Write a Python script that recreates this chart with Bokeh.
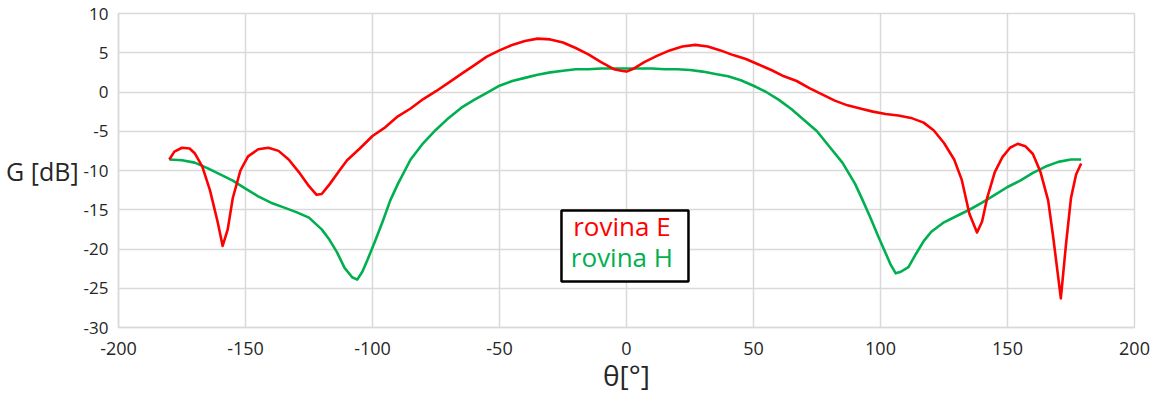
from bokeh.plotting import figure
from bokeh.models import Range1d, FixedTicker, BoxAnnotation, Label
from bokeh.embed import file_html
from bokeh.resources import INLINE

# ---- data ----
theta_e = [-180, -178, -175, -172, -170, -167, -164, -161, -159, -157, -155, -152, -149, -145,
           -141, -137, -133, -129, -125, -122, -120, -117, -113, -110, -105, -100, -95, -90,
           -85, -80, -75, -70, -65, -60, -55, -50, -45, -40, -35, -30, -25, -20, -15, -10,
           -5, -2, 0, 3, 7, 12, 17, 22, 27, 32, 37, 42, 47, 52, 57, 62, 67, 72, 77, 82, 87,
           92, 97, 102, 107, 112, 117, 121, 125, 129, 132, 135, 138, 140, 142, 145, 148, 151,
           154, 157, 160, 163, 166, 168, 171, 173, 175, 177, 179]
gain_e = [-8.6, -7.6, -7.1, -7.2, -7.8, -9.5, -12.5, -16.5, -19.6, -17.5, -13.5, -10.0, -8.2, -7.3,
          -7.1, -7.5, -8.6, -10.2, -12.0, -13.1, -13.0, -11.8, -10.0, -8.7, -7.2, -5.6, -4.5, -3.1,
          -2.1, -0.9, 0.1, 1.2, 2.3, 3.4, 4.5, 5.3, 6.0, 6.5, 6.8, 6.7, 6.3, 5.6, 4.8, 3.8,
          2.9, 2.7, 2.6, 3.0, 3.8, 4.6, 5.3, 5.8, 6.0, 5.8, 5.3, 4.7, 4.2, 3.5, 2.8, 2.0, 1.4, 0.5, -0.3, -1.1, -1.7,
          -2.1, -2.5, -2.8, -3.0, -3.3, -3.9, -4.9, -6.5, -8.6, -11.2, -15.5, -17.9, -16.5, -13.5, -10.2, -8.3, -7.1,
          -6.6, -6.9, -7.9, -10.2, -13.8, -18.5, -26.3, -19.5, -13.5, -10.5, -9.1]

theta_h = [-180, -175, -170, -165, -160, -155, -150, -145, -140, -135, -130, -125, -120, -117,
           -114, -111, -108, -106, -104, -102, -99, -96, -93, -90, -85, -80, -75, -70, -65, -60,
           -55, -50, -45, -40, -35, -30, -25, -20, -15, -10, -5, 0, 5, 10, 15, 20, 25, 30, 35,
           40, 45, 50, 55, 60, 65, 70, 75, 80, 85, 90, 93, 96, 99, 102, 104, 106, 108, 111, 114,
           117, 120, 125, 130, 135, 140, 145, 150, 155, 160, 165, 170, 175, 179]
gain_h = [-8.6, -8.7, -9.0, -9.7, -10.5, -11.3, -12.3, -13.3, -14.1, -14.7, -15.3, -16.0, -17.5, -18.8,
          -20.4, -22.4, -23.6, -23.9, -22.9, -21.4, -19.0, -16.5, -13.8, -11.7, -8.6, -6.5, -4.8, -3.3, -2.0, -1.0,
          -0.1, 0.8, 1.4, 1.8, 2.2, 2.5, 2.7, 2.9, 2.9, 3.0, 3.0, 3.0, 3.0, 3.0, 2.9, 2.9, 2.8, 2.6, 2.3,
          2.0, 1.5, 0.8, 0.0, -1.0, -2.2, -3.6, -5.0, -7.0, -9.0, -11.7, -13.8, -16.0, -18.3, -20.5, -22.0, -23.1, -22.9, -22.3, -20.6,
          -19.0, -17.8, -16.6, -15.8, -15.0, -14.1, -13.1, -12.1, -11.3, -10.3, -9.5, -8.9, -8.6, -8.6]

x_ticks = [-200, -150, -100, -50, 0, 50, 100, 150, 200]
y_ticks = [-30, -25, -20, -15, -10, -5, 0, 5, 10]
series_names = ["rovina E", "rovina H"]
series_colors = ["#ff0000", "#00b050"]

FONT = "Open Sans"
TXT = "#262626"
GRID = "#d9d9d9"

p = figure(width=1158, height=396, output_backend="svg", toolbar_location=None,
           x_range=Range1d(-200, 200), y_range=Range1d(-30, 10),
           min_border_left=118, min_border_right=24, min_border_top=13, min_border_bottom=69)
p.background_fill_color = "white"
p.border_fill_color = "white"
p.outline_line_color = GRID
p.outline_line_width = 1.5

p.line(theta_h, gain_h, line_color=series_colors[1], line_width=2.6, line_join="round")
p.line(theta_e, gain_e, line_color=series_colors[0], line_width=2.6, line_join="round")

p.xaxis.ticker = FixedTicker(ticks=x_ticks)
p.yaxis.ticker = FixedTicker(ticks=y_ticks)
p.xgrid.ticker = FixedTicker(ticks=x_ticks)
p.ygrid.ticker = FixedTicker(ticks=y_ticks)
p.grid.grid_line_color = GRID
p.grid.grid_line_width = 1.5

for ax in (p.xaxis, p.yaxis):
    ax.axis_line_color = GRID
    ax.axis_line_width = 1.5
    ax.major_tick_line_color = None
    ax.minor_tick_line_color = None
    ax.major_label_text_font = FONT
    ax.major_label_text_color = TXT
    ax.axis_label_text_font = FONT
    ax.axis_label_text_color = TXT
    ax.axis_label_text_font_style = "normal"

p.xaxis.major_label_overrides = {t: str(t) for t in x_ticks}
p.yaxis.major_label_overrides = {t: str(t) for t in y_ticks}

p.xaxis.major_label_text_font_size = "18px"
p.xaxis.major_label_standoff = 8
p.xaxis.axis_label = "θ[°]"
p.xaxis.axis_label_text_font_size = "28px"
p.xaxis.axis_label_standoff = -2

p.yaxis.major_label_text_font_size = "17px"
p.yaxis.major_label_standoff = 4
p.yaxis.axis_label = "G [dB]"
p.yaxis.axis_label_orientation = "horizontal"
p.yaxis.axis_label_text_font_size = "25px"
p.yaxis.axis_label_standoff = 2

# legend box
box = BoxAnnotation(left=-25.6, right=24.4, top=-15.1, bottom=-24.14,
                    fill_color="white", fill_alpha=1.0,
                    line_color="black", line_alpha=1.0, line_width=2.5, level="overlay")
p.add_layout(box)
p.add_layout(Label(x=-1.8, y=-17.13, text=series_names[0], text_color=series_colors[0],
                   text_font=FONT, text_font_size="26px", text_align="center",
                   text_baseline="alphabetic", level="overlay"))
p.add_layout(Label(x=-1.8, y=-20.96, text=series_names[1], text_color=series_colors[1],
                   text_font=FONT, text_font_size="26px", text_align="center",
                   text_baseline="alphabetic", level="overlay"))

open("out.html", "w").write(file_html(p, INLINE))
